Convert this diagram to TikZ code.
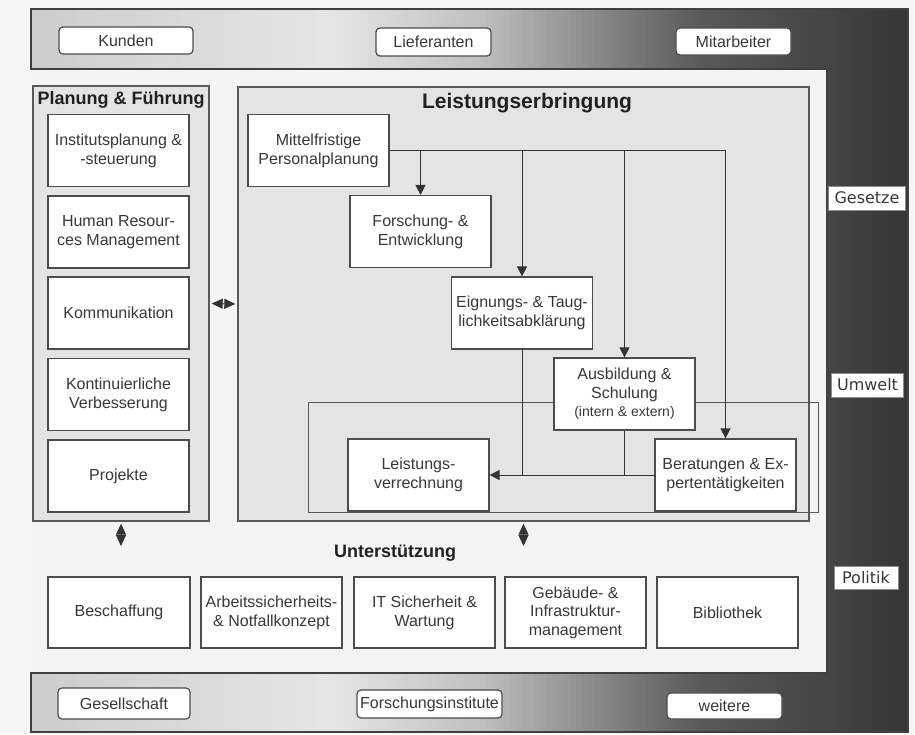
\documentclass[tikz,border=0pt]{standalone}
\usepackage{fontspec}
\setmainfont{Liberation Sans}
\newfontfamily\rlabelfont{DejaVu Sans}
\usetikzlibrary{arrows.meta}
\definecolor{bandA}{rgb}{0.80,0.80,0.80}
\definecolor{bandB}{rgb}{0.90,0.90,0.90}
\definecolor{bandC}{rgb}{0.75,0.75,0.75}
\definecolor{bandD}{rgb}{0.53,0.53,0.53}
\definecolor{bandE}{rgb}{0.35,0.35,0.35}
\definecolor{bandF}{rgb}{0.27,0.27,0.27}
\definecolor{bandG}{rgb}{0.21,0.21,0.21}
\definecolor{txt}{rgb}{0.22,0.22,0.22}
\definecolor{ttl}{rgb}{0.13,0.13,0.13}
\definecolor{boxline}{rgb}{0.30,0.30,0.30}
\definecolor{grpline}{rgb}{0.35,0.35,0.35}
\definecolor{grpbg}{rgb}{0.895,0.895,0.895}
\definecolor{innerbg}{rgb}{0.955,0.955,0.955}
\definecolor{pagebg}{rgb}{0.96,0.96,0.96}
\definecolor{frameline}{rgb}{0.25,0.25,0.25}
\definecolor{lineclr}{rgb}{0.2,0.2,0.2}
\definecolor{lblline}{rgb}{0.55,0.55,0.55}
\newcommand\fsz[2]{\fontsize{#1}{#2}\selectfont}
\tikzset{
  wbox/.style={draw=boxline, line width=1.2pt, fill=white, minimum width=141pt, minimum height=72pt,
    align=center, font=\fsz{16}{19}, text=txt, inner sep=1pt},
  grp/.style={draw=grpline, line width=1.4pt, fill=grpbg},
  rbox/.style={draw=boxline, line width=1.2pt, rounded corners=4pt, fill=white, font=\fsz{16}{19},
    text=txt, inner sep=1pt},
  rlbl/.style={draw=lblline, line width=0.8pt, fill=white, font=\rlabelfont\fsz{16}{19}, text=txt, inner sep=1pt},
  gtitle/.style={font=\bfseries\fsz{18}{21}, text=ttl, inner sep=0pt},
  conn/.style={draw=lineclr, line width=1pt},
  arrowtip/.style={-{Triangle[length=10pt,width=10pt]}},
  dbl/.style={draw=lineclr, line width=1pt, {Triangle[length=11pt,width=10pt]}-{Triangle[length=11pt,width=10pt]},
    shorten <=2pt, shorten >=2pt}
}
\begin{document}
\begin{tikzpicture}[x=1pt,y=-1pt]
\useasboundingbox (0,0) rectangle (915,734);
\fill[pagebg] (0,0) rectangle (915,734);
% outer bands: horizontal gradient built from thin strips
\foreach \xa/\xb/\ca/\cb in {31/330/bandA/bandB, 330/480/bandB/bandC, 480/600/bandC/bandD,
    600/700/bandD/bandE, 700/827/bandE/bandF, 827/908/bandF/bandG}{
  \foreach \i in {0,...,19}{
    \pgfmathsetmacro\xl{\xa+(\xb-\xa)*\i/20}
    \pgfmathsetmacro\xr{\xa+(\xb-\xa)*(\i+1)/20+0.6}
    \pgfmathsetmacro\pc{100-(\i+0.5)*5}
    \fill[\ca!\pc!\cb] (\xl,9) rectangle (\xr,732);
  }
}
\fill[innerbg] (31,69) rectangle (827,673);
\draw[frameline, line width=1.3pt] (31,69) -- (31,9) -- (908,9) -- (908,732) -- (31,732) -- (31,673) -- (827,673) -- (827,69) -- cycle;

% top band
\node[rbox, minimum width=134pt, minimum height=27pt] (kun) at (126,40.5) {Kunden};
\node[rbox, minimum width=115pt, minimum height=28pt] (lie) at (433.5,42) {Lieferanten};
\node[rbox, minimum width=115pt, minimum height=27pt] (mit) at (733.5,41.5) {Mitarbeiter};
% bottom band
\node[rbox, minimum width=132pt, minimum height=31pt] (ges) at (124,703.5) {Gesellschaft};
\node[rbox, minimum width=145pt, minimum height=28pt] (fi) at (429.5,704) {Forschungsinstitute};
\node[rbox, minimum width=115pt, minimum height=26pt] (wei) at (724.5,706) {weitere};
% right band
\node[rlbl, minimum width=77pt, minimum height=24pt] (gese) at (867,198) {Gesetze};
\node[rlbl, minimum width=72pt, minimum height=24pt] (umw) at (867.5,385) {Umwelt};
\node[rlbl, minimum width=64pt, minimum height=23pt] (pol) at (866,578) {Politik};

% Planung & Fuehrung
\node[grp, minimum width=176pt, minimum height=435pt] (pf) at (121,303.5) {};
\node[gtitle] (pft) at (121,100) {Planung \& Führung};
\node[wbox] (ip) at (118.5,150.5) {Institutsplanung \&\\-steuerung};
\node[wbox] (hr) at (118.5,232) {Human Resour-\\ces Management};
\node[wbox] (kom) at (118.5,313) {Kommunikation};
\node[wbox] (kv) at (118.5,394.5) {Kontinuierliche\\Verbesserung};
\node[wbox] (pro) at (118.5,476) {Projekte};

% Leistungserbringung
\node[grp, minimum width=571pt, minimum height=434pt] (le) at (523.5,304) {};
\node[gtitle, font=\bfseries\fsz{21}{24}] (let) at (527,103) {Leistungserbringung};
\node[draw=grpline, line width=1pt, minimum width=510pt, minimum height=110pt] (lvg) at (563,457) {};
\node[wbox] (mpp) at (318.5,150.5) {Mittelfristige\\Personalplanung};
\node[wbox] (fe) at (420.5,231.5) {Forschung- \&\\Entwicklung};
\node[wbox] (eig) at (522,313) {Eignungs- \& Taug-\\lichkeitsabklärung};
\node[wbox, font=\fsz{16}{18.5}] (aus) at (624.5,394) {Ausbildung \&\\Schulung\\{\fsz{14}{18.5}(intern \& extern)}};
\node[wbox] (lv) at (418.5,475) {Leistungs-\\verrechnung};
\node[wbox] (ber) at (725.5,475) {Beratungen \& Ex-\\pertentätigkeiten};

\draw[conn, arrowtip] (mpp.east) -| (ber.north);
\draw[conn, arrowtip] (mpp.east -| fe.north) -- (fe.north);
\draw[conn, arrowtip] (mpp.east -| eig.north) -- (eig.north);
\draw[conn, arrowtip] (mpp.east -| aus.north) -- (aus.north);
\draw[conn, arrowtip] (ber.west) -- (lv.east);
\draw[conn] (eig.south) -- (eig.south |- lv.east);
\draw[conn] (aus.south) -- (aus.south |- lv.east);

% double arrows
\draw[dbl] (pf.east) -- (le.west);
\coordinate (pfs) at (121,548);
\coordinate (les) at (523.5,548);
\draw[dbl] (pf.south) -- (pfs);
\draw[dbl] (le.south) -- (les);

% Unterstuetzung
\node[gtitle] (ut) at (395,553) {Unterstützung};
\node[wbox, minimum width=142pt, minimum height=71pt] (bes) at (119,612.5) {Beschaffung};
\node[wbox, minimum height=71pt] (arb) at (271.5,612.5) {Arbeitssicherheits-\\\& Notfallkonzept};
\node[wbox, minimum height=71pt] (its) at (424.5,612.5) {IT Sicherheit \&\\Wartung};
\node[wbox, minimum height=71pt, font=\fsz{16}{18.5}] (geb) at (575.5,612.5) {Gebäude- \&\\Infrastruktur-\\management};
\node[wbox, minimum height=71pt] (bib) at (727.5,612.5) {Bibliothek};
\end{tikzpicture}
\end{document}
